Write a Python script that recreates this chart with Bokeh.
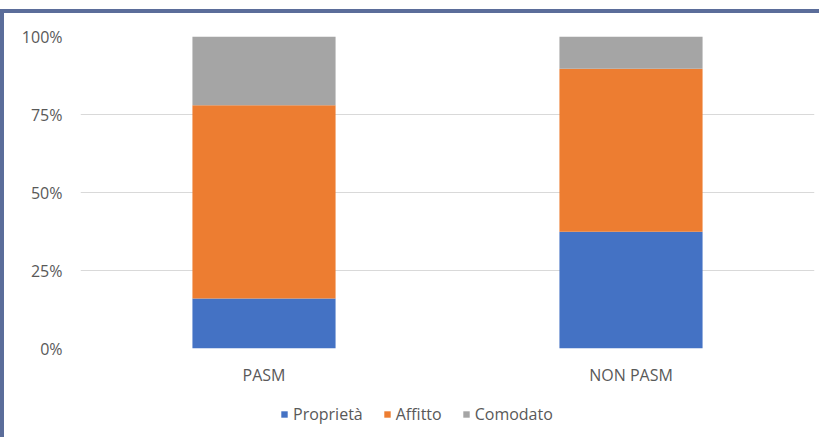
from bokeh.plotting import figure
from bokeh.models import ColumnDataSource, NumeralTickFormatter, Legend, FixedTicker, Div
from bokeh.layouts import column, row
from bokeh.embed import file_html
from bokeh.resources import INLINE

categories = ["PASM", "NON PASM"]
series = ["Proprietà", "Affitto", "Comodato"]
proprieta = [0.16, 0.374]
affitto = [0.62, 0.523]
comodato = [0.22, 0.103]
colors = ["#4472C4", "#ED7D31", "#A5A5A5"]
y_ticks = [0, 0.25, 0.5, 0.75, 1.0]

source = ColumnDataSource(dict(cat=categories, **{"Proprietà": proprieta, "Affitto": affitto, "Comodato": comodato}))

FONT = "Open Sans"
TXT = "#595959"
BORDER = "#5b6d9a"

# main chart
p = figure(x_range=categories, y_range=(0, 1), width=819, height=388,
           output_backend="svg", toolbar_location=None,
           min_border_left=76, min_border_right=9, min_border_top=23, min_border_bottom=53)

renderers = p.vbar_stack(series, x="cat", width=0.39, color=colors, source=source, line_color=None)

p.outline_line_color = None
p.background_fill_color = "white"
p.border_fill_color = "white"

p.xgrid.grid_line_color = None
p.ygrid.grid_line_color = "#D9D9D9"
p.ygrid.grid_line_width = 1

p.yaxis.ticker = FixedTicker(ticks=y_ticks)
p.yaxis.formatter = NumeralTickFormatter(format="0%")
for ax in (p.xaxis[0], p.yaxis[0]):
    ax.axis_line_color = None
    ax.major_tick_line_color = None
    ax.minor_tick_line_color = None
    ax.major_tick_out = 0
    ax.major_tick_in = 0
    ax.minor_tick_out = 0
    ax.major_label_text_font = FONT
    ax.major_label_text_font_size = "16px"
    ax.major_label_text_color = TXT
p.yaxis.major_label_standoff = 18
p.xaxis.major_label_standoff = 15

# legend strip below the chart (same side borders as the chart)
q = figure(width=819, height=36, output_backend="svg", toolbar_location=None,
           x_axis_type=None, y_axis_type=None,
           min_border_left=76, min_border_right=9, min_border_top=0, min_border_bottom=0)
q.outline_line_color = None
q.background_fill_color = "white"
q.border_fill_color = "white"
dummy = [q.vbar(x=[0], top=[0], bottom=[0], width=0.5, fill_color=c, line_color=None) for c in colors]
legend = Legend(items=[(s, [r]) for s, r in zip(series, dummy)],
                orientation="horizontal", location=(200, 12),
                label_text_font=FONT, label_text_font_size="16px", label_text_color=TXT,
                glyph_width=8, glyph_height=8, spacing=20, label_standoff=5,
                border_line_color=None, background_fill_alpha=0, padding=2, margin=0)
q.add_layout(legend, "center")

# frame of the chart: top and left border lines
top_line = Div(text="", width=823, height=4, margin=(9, 0, 0, 0),
               styles={"background-color": BORDER})
left_line = Div(text="", width=4, height=424, margin=(0, 0, 0, 0),
                styles={"background-color": BORDER})

layout = column(top_line, row(left_line, column(p, q, spacing=0), spacing=0), spacing=0)

html = file_html(layout, INLINE)
html = html.replace("<head>", "<head><style>html, body { margin: 0; padding: 0; overflow: hidden; }</style>", 1)
open("out.html", "w").write(html)
